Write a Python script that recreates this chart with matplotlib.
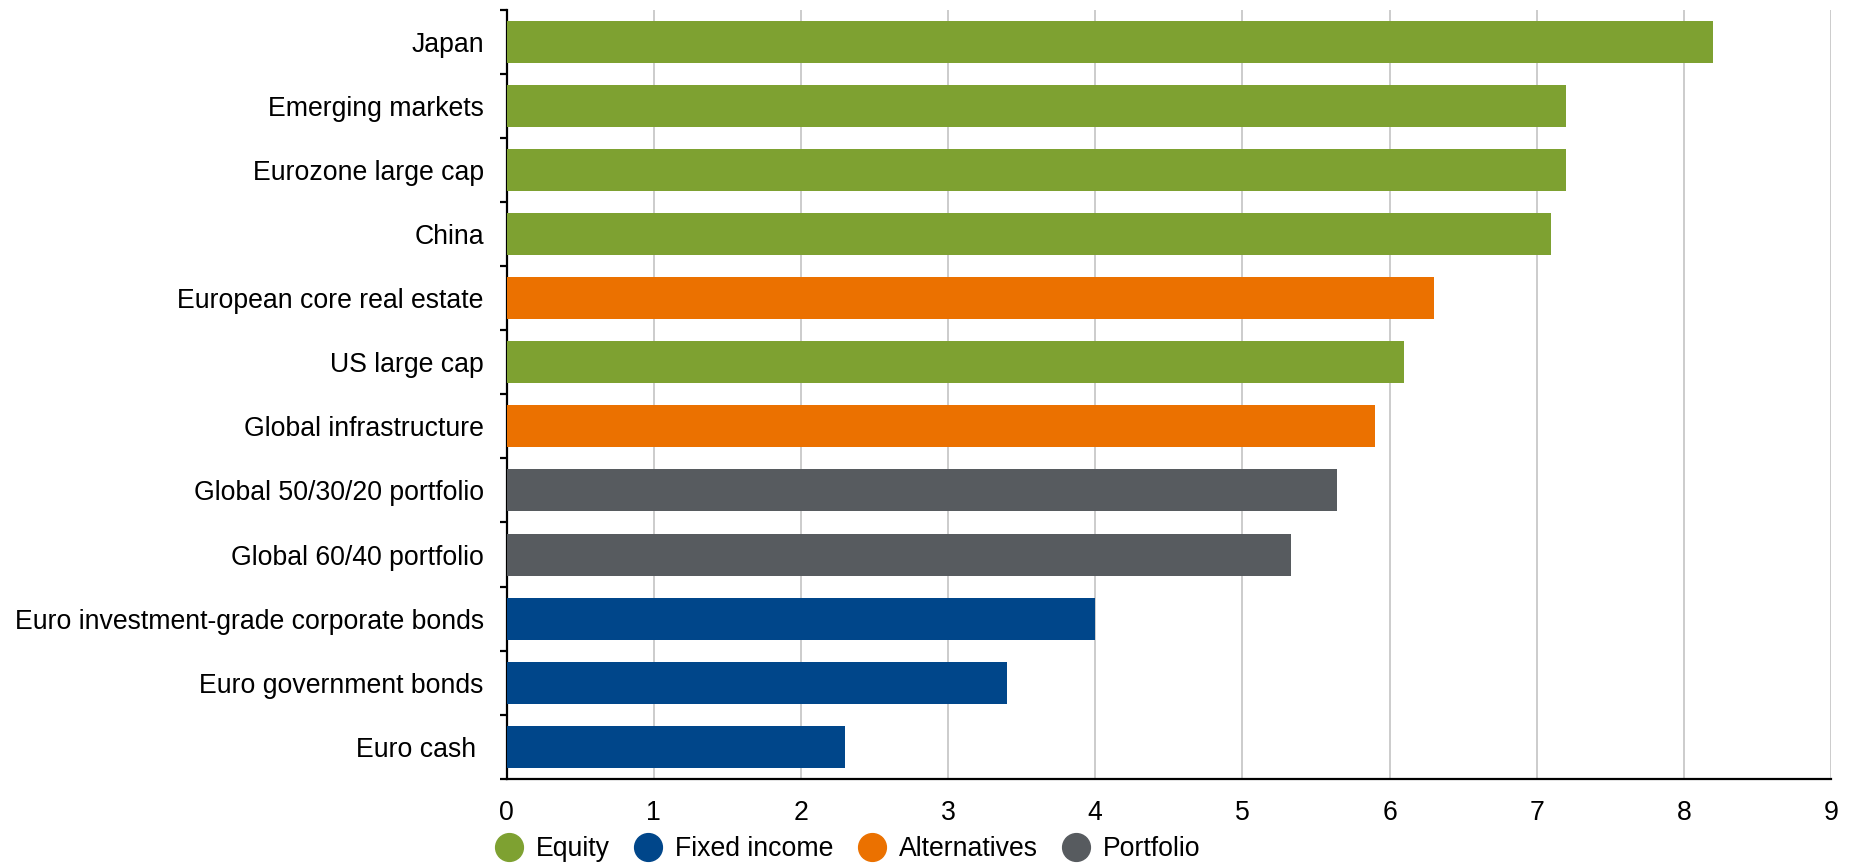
import matplotlib
matplotlib.use("Agg")
import matplotlib.pyplot as plt
from matplotlib.lines import Line2D
import numpy as np

plt.rcParams['font.family'] = ['Liberation Sans', 'DejaVu Sans']

categories = ["Japan", "Emerging markets", "Eurozone large cap", "China",
              "European core real estate", "US large cap", "Global infrastructure",
              "Global 50/30/20 portfolio", "Global 60/40 portfolio",
              "Euro investment-grade corporate bonds", "Euro government bonds",
              "Euro cash "]
values = [8.2, 7.2, 7.2, 7.1, 6.3, 6.1, 5.9, 5.64, 5.33, 4.0, 3.4, 2.3]
groups = ["Equity", "Equity", "Equity", "Equity", "Alternatives", "Equity",
          "Alternatives", "Portfolio", "Portfolio", "Fixed income",
          "Fixed income", "Fixed income"]
legend_order = ["Equity", "Fixed income", "Alternatives", "Portfolio"]
colors = {"Equity": "#7EA131", "Fixed income": "#00468A",
          "Alternatives": "#EB7100", "Portfolio": "#575B5F"}
xticks = [0, 1, 2, 3, 4, 5, 6, 7, 8, 9]

FS = 19.2

fig = plt.figure(figsize=(18.56, 8.66), dpi=100)
ax = fig.add_axes([0.273, 0.1005, 0.7135, 0.8885])

y = np.arange(len(categories))
ax.barh(y, values, height=0.655, color=[colors[g] for g in groups], zorder=3)
ax.set_ylim(len(categories) - 0.5, -0.5)
ax.set_xlim(0, 9)
ax.set_xticks(xticks)
ax.set_xticklabels([str(t) for t in xticks])
ax.set_yticks(y)
ax.set_yticklabels(categories)
ax.set_yticks(np.arange(-0.5, len(categories) + 0.5, 1), minor=True)
ax.tick_params(axis='y', which='major', length=0, pad=16.5, labelsize=FS)
ax.tick_params(axis='y', which='minor', length=5, width=1.6, color='black', direction='out')
ax.tick_params(axis='x', which='major', length=0, pad=15, labelsize=FS)
ax.grid(axis='x', color='#CCCCCC', linewidth=1.4, zorder=0)
for s in ['top', 'right']:
    ax.spines[s].set_visible(False)
for s in ['left', 'bottom']:
    ax.spines[s].set_color('black')
    ax.spines[s].set_linewidth(1.6)

handles = [Line2D([0], [0], marker='o', linestyle='none', markersize=20,
                  markerfacecolor=colors[g], markeredgecolor=colors[g]) for g in legend_order]
fig.legend(handles, legend_order, loc='center left',
           bbox_to_anchor=(493 / 1856, 1 - 849 / 866), ncol=4, frameon=False,
           fontsize=FS, handletextpad=0.42, columnspacing=0.82, borderpad=0,
           handlelength=1.2, borderaxespad=0)

fig.savefig("out.png", dpi=100)
